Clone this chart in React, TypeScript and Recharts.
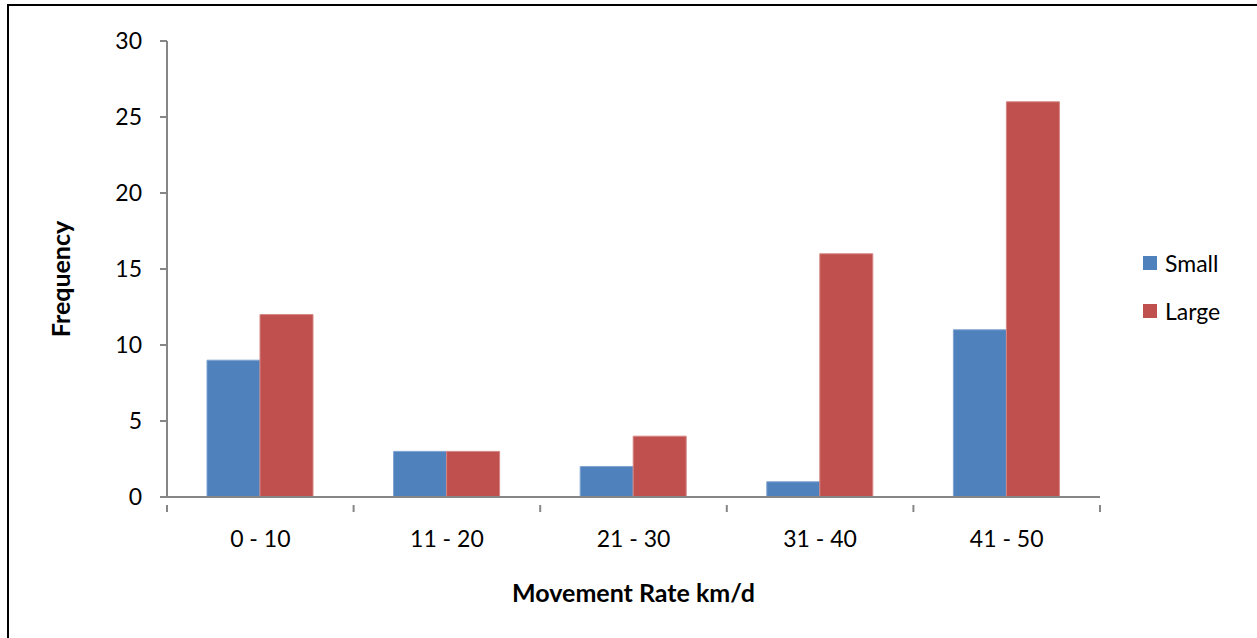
import React from "react";
import {
  BarChart,
  Bar,
  XAxis,
  YAxis,
  Legend,
} from "recharts";

const rateBins = ["0 - 10", "11 - 20", "21 - 30", "31 - 40", "41 - 50"];
const smallCounts = [9, 3, 2, 1, 11];
const largeCounts = [12, 3, 4, 16, 26];
const freqTicks = [0, 5, 10, 15, 20, 25, 30];
const seriesOrder = ["Small", "Large"];

const data = rateBins.map((bin, i) => ({
  bin,
  Small: smallCounts[i],
  Large: largeCounts[i],
}));

const AXIS = "#868686";
const FONT = "Lato, 'Liberation Sans', sans-serif";

// category tick: label centred under the band, tick marks on the band edges
function BinTick(props: any) {
  const { x, y, payload, index, visibleTicksCount, width } = props;
  const half =
    payload && typeof payload.offset === "number" && payload.offset > 0
      ? payload.offset
      : width / (visibleTicksCount || rateBins.length) / 2;
  const last = index === (visibleTicksCount || rateBins.length) - 1;
  return (
    <g>
      <line x1={x - half} x2={x - half} y1={y} y2={y + 7} stroke={AXIS} strokeWidth={2} />
      {last && (
        <line x1={x + half} x2={x + half} y1={y} y2={y + 7} stroke={AXIS} strokeWidth={2} />
      )}
      <text
        x={x}
        y={y + 42}
        textAnchor="middle"
        fontSize={23}
        fontFamily={FONT}
        fill="#000"
      >
        {payload.value}
      </text>
    </g>
  );
}

function SideLegend(props: any) {
  const items = seriesOrder
    .map((name) => (props.payload || []).find((p: any) => p.value === name))
    .filter(Boolean);
  return (
    <ul style={{ listStyle: "none", margin: 0, padding: 0 }}>
      {items.map((item: any) => (
        <li
          key={item.value}
          style={{
            display: "flex",
            alignItems: "center",
            height: 48,
            fontFamily: FONT,
            fontSize: 23,
            color: "#000",
          }}
        >
          <span
            style={{
              display: "inline-block",
              width: 14,
              height: 14,
              background: item.color,
              marginRight: 8,
            }}
          />
          {item.value}
        </li>
      ))}
    </ul>
  );
}

export default function App() {
  return (
    <div
      style={{
        position: "absolute",
        left: 0,
        top: 0,
        width: 1257,
        height: 638,
        overflow: "hidden",
        background: "#fff",
      }}
    >
      <div
        style={{
          position: "absolute",
          left: 7,
          top: 4,
          width: 1400,
          height: 800,
          borderTop: "2px solid #000",
          borderLeft: "2px solid #000",
        }}
      />
      <div style={{ position: "absolute", left: 0, top: 0 }}>
        <BarChart
          width={1257}
          height={638}
          data={data}
          margin={{ top: 41, right: 157, bottom: 0, left: 0 }}
          barCategoryGap={40}
          barGap={0}
        >
          <XAxis
            dataKey="bin"
            height={141}
            stroke={AXIS}
            strokeWidth={2}
            tickLine={false}
            tick={<BinTick />}
            interval={0}
            label={{
              value: "Movement Rate km/d",
              position: "insideBottom",
              offset: 36,
              fontFamily: FONT,
              fontSize: 25,
              fontWeight: 700,
              fill: "#000",
            }}
          />
          <YAxis
            width={167}
            domain={[0, 30]}
            ticks={freqTicks}
            interval={0}
            stroke={AXIS}
            strokeWidth={2}
            tickSize={7}
            tickMargin={18}
            tick={{ fontFamily: FONT, fontSize: 23, fill: "#000" }}
            label={{
              value: "Frequency",
              angle: -90,
              position: "center",
              dx: -22,
              dy: 10,
              fontFamily: FONT,
              fontSize: 25,
              fontWeight: 700,
              fill: "#000",
            }}
          />
          <Legend
            layout="vertical"
            align="center"
            verticalAlign="middle"
            content={<SideLegend />}
            wrapperStyle={{ left: 1143, top: 239, width: 110 }}
          />
          <Bar
            dataKey="Small"
            fill="#4F81BD"
            stroke="#7fa2cf"
            strokeWidth={1}
            isAnimationActive={false}
          />
          <Bar
            dataKey="Large"
            fill="#C0504D"
            stroke="#d48683"
            strokeWidth={1}
            isAnimationActive={false}
          />
        </BarChart>
      </div>
    </div>
  );
}
